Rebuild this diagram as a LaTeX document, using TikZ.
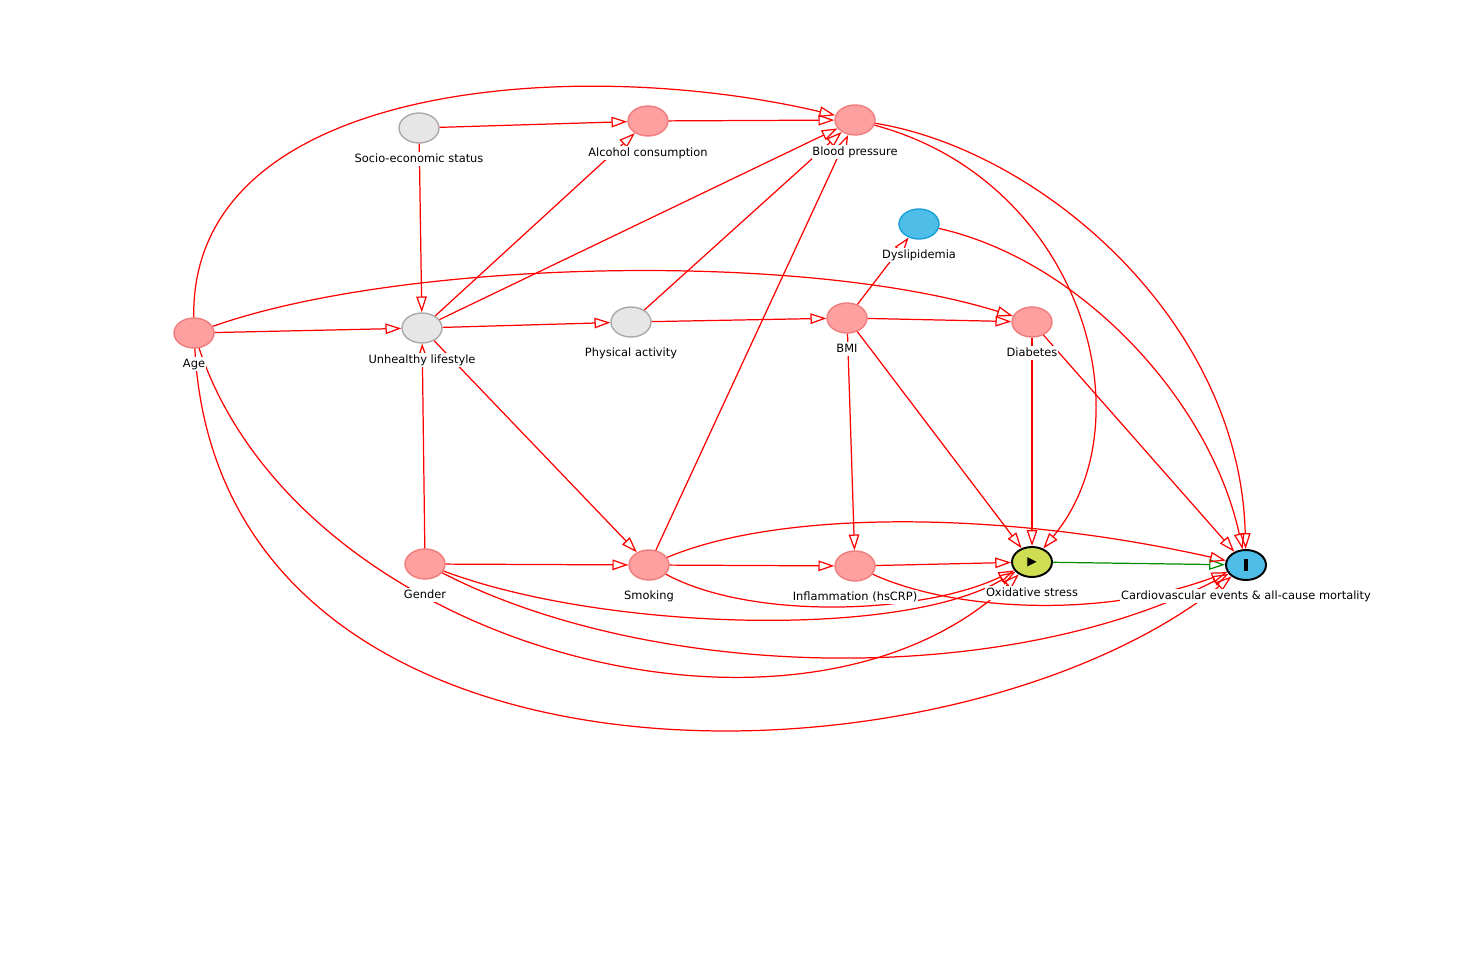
\documentclass[tikz,border=0pt]{standalone}
\usepackage{fontspec}
\setmainfont{DejaVu Sans}
\usetikzlibrary{arrows.meta, shapes.geometric}

\definecolor{ancfill}{RGB}{255,160,160}
\definecolor{ancline}{RGB}{240,125,125}
\definecolor{latfill}{RGB}{230,230,230}
\definecolor{latline}{RGB}{170,170,170}
\definecolor{outfill}{RGB}{78,190,232}
\definecolor{outline}{RGB}{25,160,215}
\definecolor{expfill}{RGB}{205,222,82}
\definecolor{pathgreen}{RGB}{0,140,0}

\begin{document}
\begin{tikzpicture}[x=0.02cm, y=-0.02cm,
        var/.style={ellipse, line width=0.8pt, minimum width=0.8cm, minimum height=0.6cm, inner sep=0pt},
        anc/.style={var, fill=ancfill, draw=ancline},
        lat/.style={var, fill=latfill, draw=latline},
        adj/.style={var, fill=outfill, draw=outline},
        expo/.style={var, fill=expfill, draw=black, line width=1.1pt},
        outc/.style={var, fill=outfill, draw=black, line width=1.1pt},
        lab/.style={fill=white, inner sep=0.5pt, text height=5pt, text depth=1.5pt, font=\fontsize{6.5}{7.5}\selectfont},
        cause/.style={draw=red, line width=0.7pt, -{Triangle[open, length=9pt, width=6pt]}},
        causal/.style={cause, draw=pathgreen}]
        \useasboundingbox (0, 0) rectangle (1476, 969);

        \node[lat] at (419, 128)     (soc) {};
        \node[anc] at (648, 121)     (alc) {};
        \node[anc] at (855, 120)     (bp) {};
        \node[adj] at (919, 224)     (dys) {};
        \node[anc] at (194, 333)     (age) {};
        \node[lat] at (422, 328)     (ul) {};
        \node[lat] at (631, 322)     (pa) {};
        \node[anc] at (847, 318)     (bmi) {};
        \node[anc] at (1032, 322)    (dia) {};
        \node[anc] at (425, 564)     (gen) {};
        \node[anc] at (649, 565)     (smk) {};
        \node[anc] at (855, 566)     (inf) {};
        \node[expo] at (1032, 562)   (ox) {\fontsize{7}{7}\selectfont ▶};
        \node[outc] at (1246, 565)   (cve) {\rule{1.8pt}{6.5pt}};

        \draw[cause] (soc) -- (alc);
        \draw[cause] (soc) -- (ul);
        \draw[cause] (alc) -- (bp);
        \draw[cause] (ul) -- (alc);
        \draw[cause] (ul) -- (bp);
        \draw[cause] (pa) -- (bp);
        \draw[cause] (smk) -- (bp);
        \draw[cause] (bmi) -- (dys);
        \draw[cause] (age) -- (ul);
        \draw[cause] (ul) -- (pa);
        \draw[cause] (pa) -- (bmi);
        \draw[cause] (bmi) -- (dia);
        \draw[cause] (bmi) -- (ox);
        \draw[cause] (bmi) -- (inf);
        \draw[cause] (dia) -- (ox);
        \draw[cause] (dia) -- (cve);
        \draw[cause] (ul) -- (smk);
        \draw[cause] (gen) -- (ul);
        \draw[cause] (gen) -- (smk);
        \draw[cause] (smk) -- (inf);
        \draw[cause] (inf) -- (ox);
        \draw[causal] (ox) -- (cve);

        % bent arcs
        \draw[cause] (age) .. controls (190, 80) and (580, 55) .. (bp);
        \draw[cause] (age) .. controls (400, 260) and (800, 250) .. (dia);
        \draw[cause] (age) .. controls (300, 650) and (800, 780) .. (ox);
        \draw[cause] (age) .. controls (220, 820) and (950, 800) .. (cve);
        \draw[cause] (bp) .. controls (1040, 150) and (1240, 320) .. (cve);
        \draw[cause] (bp) .. controls (1080, 180) and (1150, 420) .. (ox);
        \draw[cause] (dys) .. controls (1080, 260) and (1210, 400) .. (cve);
        \draw[cause] (smk) .. controls (780, 510) and (1000, 510) .. (cve);
        \draw[cause] (smk) .. controls (750, 620) and (920, 615) .. (ox);
        \draw[cause] (gen) .. controls (600, 630) and (900, 640) .. (ox);
        \draw[cause] (gen) .. controls (650, 680) and (1000, 690) .. (cve);
        \draw[cause] (inf) .. controls (950, 610) and (1100, 620) .. (cve);

        \node[lab] at (419, 159)     (soc-l) {Socio-economic status};
        \node[lab] at (648, 153)     (alc-l) {Alcohol consumption};
        \node[lab] at (855, 152)     (bp-l) {Blood pressure};
        \node[lab] at (919, 255)     (dys-l) {Dyslipidemia};
        \node[lab] at (194, 364)     (age-l) {Age};
        \node[lab] at (422, 360)     (ul-l) {Unhealthy lifestyle};
        \node[lab] at (631, 353)     (pa-l) {Physical activity};
        \node[lab] at (847, 349)     (bmi-l) {BMI};
        \node[lab] at (1032, 353)    (dia-l) {Diabetes};
        \node[lab] at (425, 595)     (gen-l) {Gender};
        \node[lab] at (649, 596)     (smk-l) {Smoking};
        \node[lab] at (855, 597)     (inf-l) {Inflammation (hsCRP)};
        \node[lab] at (1032, 593)    (ox-l) {Oxidative stress};
        \node[lab] at (1246, 596)    (cve-l) {Cardiovascular events \& all-cause mortality};
    \end{tikzpicture}
\end{document}
